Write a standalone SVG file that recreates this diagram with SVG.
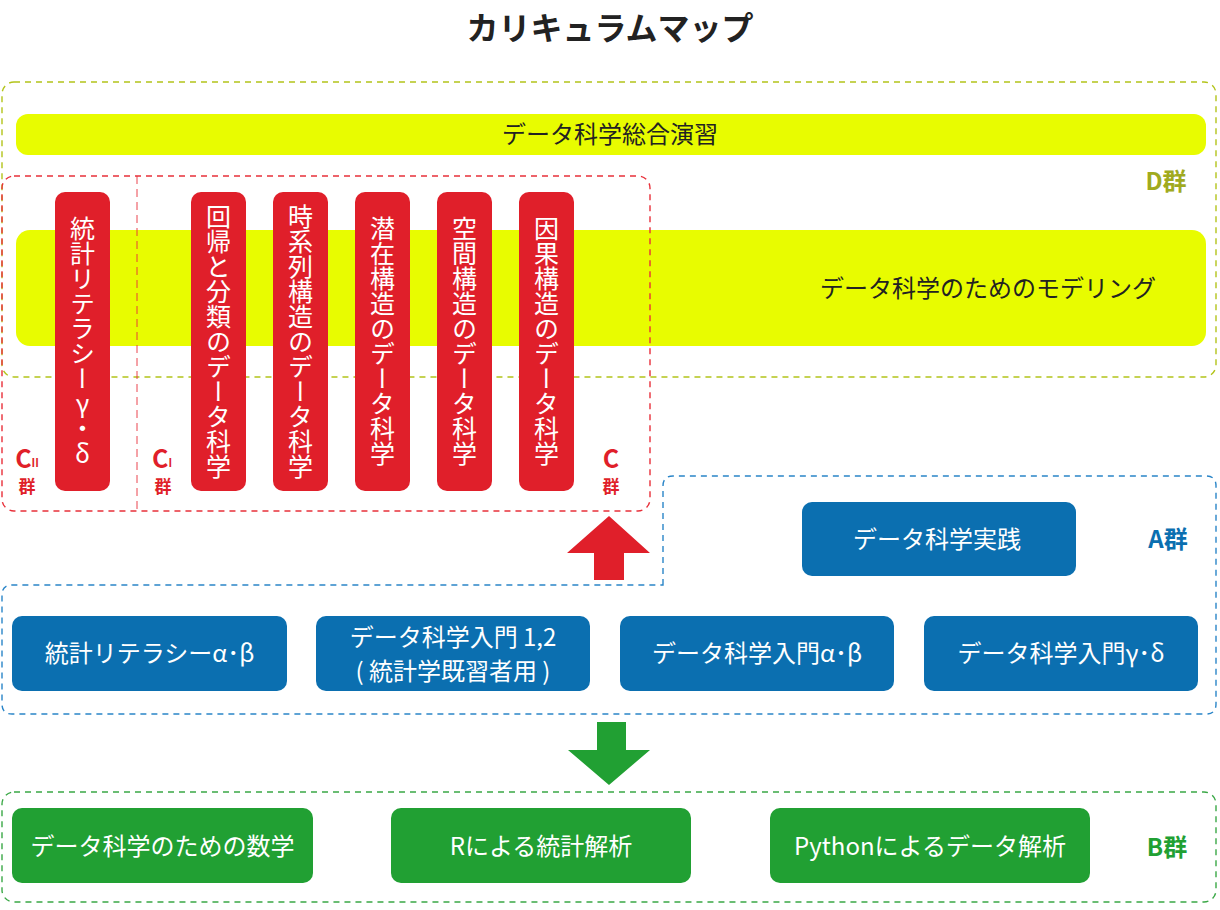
<svg xmlns="http://www.w3.org/2000/svg" width="1220" height="910" viewBox="0 0 1220 910">
<defs>
<style>
text{font-family:"Noto Sans CJK JP","Noto Sans",sans-serif;}
.title{font-size:32px;font-weight:bold;fill:#222;text-anchor:middle;}
.ybar{fill:#e8fc00;}
.ytxt{font-size:24px;fill:#222;}
.rpill{fill:#e01f2a;}
.vtxt{font-size:25px;fill:#fff;writing-mode:vertical-rl;text-orientation:upright;text-anchor:middle;}
.bnode{fill:#0b6fb0;}
.gnode{fill:#21a033;}
.wtxt{font-size:24px;fill:#fff;text-anchor:middle;}
.lbl{font-weight:bold;text-anchor:middle;}
</style>
</defs>
<rect width="1220" height="910" fill="#fff"/>
<text class="title" x="610" y="40">カリキュラムマップ</text>

<g id="groupD">
<rect x="2" y="82" width="1214" height="295" rx="12" fill="none" stroke="#b3c41a" stroke-width="1.4" stroke-dasharray="6,5"/>
<text class="lbl" x="1166" y="190" font-size="24" fill="#a0aa1e">D群</text>
</g>
<g id="sougou">
<rect class="ybar" x="16" y="114" width="1190" height="41" rx="12"/>
<text class="ytxt" x="610" y="143" text-anchor="middle">データ科学総合演習</text>
</g>
<g id="modeling">
<rect class="ybar" x="16" y="230" width="1190" height="116" rx="14"/>
<text class="ytxt" x="988" y="297" text-anchor="middle">データ科学のためのモデリング</text>
</g>

<g id="groupC">
<rect x="2" y="176" width="648" height="335" rx="12" fill="none" stroke="#e8303a" stroke-width="1.4" stroke-dasharray="6,5"/>
<line x1="137" y1="176" x2="137" y2="511" stroke="#e8303a" stroke-width="0.9" stroke-dasharray="8,5"/>
<text class="lbl" x="27" y="468" font-size="25" fill="#e01f2a">C<tspan font-size="11" dy="-1">II</tspan></text>
<text class="lbl" x="27" y="493" font-size="17" fill="#e01f2a">群</text>
<text class="lbl" x="162" y="468" font-size="25" fill="#e01f2a">C<tspan font-size="11" dy="-1">I</tspan></text>
<text class="lbl" x="163" y="493" font-size="17" fill="#e01f2a">群</text>
<text class="lbl" x="611" y="468" font-size="25" fill="#e01f2a">C</text>
<text class="lbl" x="611" y="493" font-size="17" fill="#e01f2a">群</text>
</g>
<g id="c1"><rect class="rpill" x="55" y="192" width="55" height="299" rx="10"/><text class="vtxt" x="82.5" y="341">統計リテラシーγ・δ</text></g>
<g id="c2"><rect class="rpill" x="191" y="192" width="55" height="299" rx="10"/><text class="vtxt" x="218.5" y="341">回帰と分類のデータ科学</text></g>
<g id="c3"><rect class="rpill" x="273" y="192" width="55" height="299" rx="10"/><text class="vtxt" x="300.5" y="341">時系列構造のデータ科学</text></g>
<g id="c4"><rect class="rpill" x="355" y="192" width="55" height="299" rx="10"/><text class="vtxt" x="382.5" y="341">潜在構造のデータ科学</text></g>
<g id="c5"><rect class="rpill" x="437" y="192" width="55" height="299" rx="10"/><text class="vtxt" x="464.5" y="341">空間構造のデータ科学</text></g>
<g id="c6"><rect class="rpill" x="519" y="192" width="55" height="299" rx="10"/><text class="vtxt" x="546.5" y="341">因果構造のデータ科学</text></g>

<g id="groupA">
<path d="M663,585 V486 Q663,476 673,476 H1206 Q1216,476 1216,486 V704 Q1216,714 1206,714 H12 Q2,714 2,704 V595 Q2,585 12,585 Z" fill="none" stroke="#2a85c8" stroke-width="1.4" stroke-dasharray="6,5"/>
<text class="lbl" x="1168" y="548" font-size="24" fill="#0b6fb0">A群</text>
</g>
<g id="a_jissen"><rect class="bnode" x="802" y="502" width="274" height="74" rx="10"/><text class="wtxt" x="937" y="548">データ科学実践</text></g>
<g id="a1"><rect class="bnode" x="12" y="616" width="275" height="75" rx="10"/><text class="wtxt" x="149.5" y="662">統計リテラシーα･β</text></g>
<g id="a2"><rect class="bnode" x="316" y="616" width="274" height="75" rx="10"/><text class="wtxt" x="453" y="646" font-size="23">データ科学入門 1,2</text><text class="wtxt" x="453" y="680" font-size="16">( 統計学既習者用 )</text></g>
<g id="a3"><rect class="bnode" x="620" y="616" width="274" height="75" rx="10"/><text class="wtxt" x="757" y="662">データ科学入門α･β</text></g>
<g id="a4"><rect class="bnode" x="924" y="616" width="274" height="75" rx="10"/><text class="wtxt" x="1061" y="662">データ科学入門γ･δ</text></g>

<g id="groupB">
<rect x="2" y="792" width="1214" height="110" rx="12" fill="none" stroke="#3aa846" stroke-width="1.4" stroke-dasharray="6,5"/>
<text class="lbl" x="1167" y="856" font-size="24" fill="#21a033">B群</text>
</g>
<g id="b1"><rect class="gnode" x="12" y="808" width="301" height="75" rx="10"/><text class="wtxt" x="162.5" y="855">データ科学のための数学</text></g>
<g id="b2"><rect class="gnode" x="391" y="808" width="300" height="75" rx="10"/><text class="wtxt" x="541" y="855">Rによる統計解析</text></g>
<g id="b3"><rect class="gnode" x="770" y="808" width="320" height="75" rx="10"/><text class="wtxt" x="930" y="855">Pythonによるデータ解析</text></g>

<g id="connectors">
<polygon points="609,516 650,553 624,553 624,580 594,580 594,553 567,553" fill="#e01f2a"/>
<polygon points="597,722 626,722 626,750 650,750 609,785 568,750 597,750" fill="#21a033"/>
</g>
</svg>
